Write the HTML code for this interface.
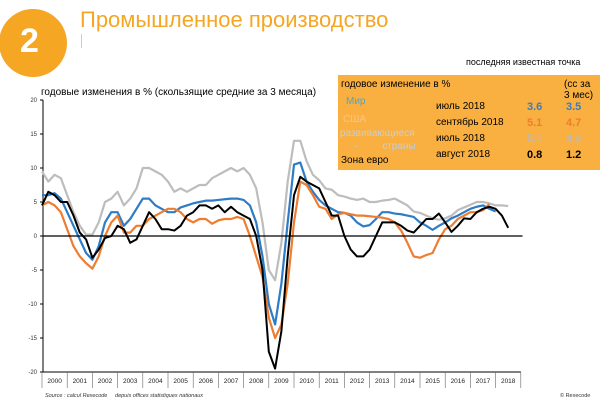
<!DOCTYPE html>
<html><head><meta charset="utf-8"><style>
body{margin:0;width:611px;height:406px;background:#fff;overflow:hidden;font-family:"Liberation Sans","DejaVu Sans",sans-serif;position:relative}
.a{position:absolute;white-space:nowrap}
</style></head><body>
<div class="a" style="left:-1px;top:9px;width:68px;height:68px;border-radius:50%;background:#f5a623"></div>
<div class="a" style="left:20px;top:22px;color:#fff;font-size:34px;font-weight:bold">2</div>
<div class="a" style="left:80px;top:7px;color:#f5a623;font-size:22px">Промышленное производство</div>
<div class="a" style="left:81px;top:34px;width:1px;height:14px;background:#f5c77a"></div>
<div class="a" style="left:466px;top:57px;font-size:9px">последняя известная точка</div>
<div class="a" style="left:41px;top:87px;font-size:10px">годовые изменения в % (скользящие средние за 3 месяца)</div>
<svg id="ch" class="a" style="left:0;top:0" width="611" height="406"></svg>
<div class="a" style="left:338px;top:75px;width:262px;height:95px;background:#f9b041;font-size:10px">
<div class="a" style="left:3px;top:4px">годовое изменение в %</div>
<div class="a" style="left:226px;top:4px;line-height:11px">(сс за<br>3 мес)</div>
<div class="a" style="left:8px;top:21px;color:#4ba6cf">Мир</div>
<div class="a" style="left:5px;top:39px;color:#f7c48a">США</div>
<div class="a" style="left:2px;top:52px;color:#ccc;line-height:13px">развивающиеся<br>&nbsp;&nbsp;&nbsp;&nbsp;&nbsp;-&nbsp;&nbsp;&nbsp;&nbsp;&nbsp;&nbsp;&nbsp;&nbsp;&nbsp;страны</div>
<div class="a" style="left:3px;top:80px">Зона евро</div>
<div class="a" style="left:98px;top:26px">июль 2018</div>
<div class="a" style="left:98px;top:42px">сентябрь 2018</div>
<div class="a" style="left:98px;top:58px">июль 2018</div>
<div class="a" style="left:98px;top:74px">август 2018</div>
<div class="a" style="left:189px;top:26px;color:#3a7cc0;font-weight:bold;font-size:11px">3.6</div>
<div class="a" style="left:228px;top:26px;color:#3a7cc0;font-weight:bold;font-size:11px">3.5</div>
<div class="a" style="left:189px;top:42px;color:#ef7d2e;font-weight:bold;font-size:11px">5.1</div>
<div class="a" style="left:228px;top:42px;color:#ef7d2e;font-weight:bold;font-size:11px">4.7</div>
<div class="a" style="left:189px;top:58px;color:#bbb;font-weight:bold;font-size:11px">5.1</div>
<div class="a" style="left:228px;top:58px;color:#bbb;font-weight:bold;font-size:11px">4.4</div>
<div class="a" style="left:189px;top:74px;font-weight:bold;font-size:11px">0.8</div>
<div class="a" style="left:228px;top:74px;font-weight:bold;font-size:11px">1.2</div>
</div>
<div class="a" style="left:45px;top:393px;font-size:5.5px;font-style:italic;color:#333">Source : calcul Rexecode &nbsp;&nbsp;&nbsp; depuis offices statistiques nationaux</div>
<div class="a" style="left:560px;top:393px;font-size:5.5px;color:#333">© Rexecode</div>
<script>
const years=["2000","2001","2002","2003","2004","2005","2006","2007","2008","2009","2010","2011","2012","2013","2014","2015","2016","2017","2018"];
const yTicks=[20,15,10,5,0,-5,-10,-15,-20];
const startYear=2000, step=0.25;
const emerging=[9.5,8,9,8.5,6,3.5,1.5,0.2,0.2,2,5,5.5,6.5,4.5,5.5,7,10,10,9.5,9,8,6.5,7,6.5,7,7.5,7.5,8.5,9,9.5,10,9.5,10,9,7,2,-5,-6.5,-1,8,14,14,11,9,8.2,7,6.8,6,5.8,5.5,5.3,5.5,5,5,5.2,5.3,5.5,5,4.5,3.6,3.4,3,2.6,2.4,2.6,3,3.8,4.2,4.6,5,5,4.8,4.5,4.5,4.4];
const world=[6,6,6.3,5.5,3.5,1.5,-0.5,-2.5,-3.5,-1.5,2,3.5,3.5,1.5,2.5,4,5.5,5.5,4.5,4,3.5,3.5,4.2,4.5,4.8,5,5.2,5.2,5.3,5.4,5.5,5.5,5.3,4.5,2,-3,-10,-13,-7,2,10.5,10.8,8,6.5,5.3,4.5,4,3.5,3.4,3,2,1.4,1.6,2.5,3.5,3.5,3.3,3.2,3,2.8,2,1.5,0.9,1.5,2,2.6,3,3.5,4,4.3,4.5,4,3.6];
const usa=[4.5,5,4.5,3.5,1,-1.5,-3,-4,-4.8,-3,0,2,3,0.5,0.5,1.5,1.5,2.5,3,3.5,4,4,3.5,2.5,2,2.5,2.5,1.8,2.3,2.5,2.5,2.8,2.5,0,-3,-6,-12,-15,-13,-7,2,8,7.5,6,4.3,4,2.5,3.2,3.4,3.2,3,3,2.9,2.8,2.7,2.5,2,0.8,-1,-3,-3.2,-2.8,-2.5,-0.5,1,1.5,2.5,3,3.5,3.5,3.8,4.7];
const euro=[4.5,6.5,6,5,5,3,0.5,-0.5,-3.2,-2,-0.3,0,1.5,1,-1,-0.5,1.5,3.5,2.5,1,1,0.8,1.5,3,3.5,4.5,4.5,4,4.5,3.5,4.3,3.5,3,2.5,0,-5,-17,-19.5,-14,-3,6,8.7,8,7.5,7,5,3,3,0,-2,-3,-3,-2,0,2,2,2,1.5,0.8,0.5,1.5,2.5,2.5,3.3,2,0.6,1.5,2.6,2.5,3.5,4,4.3,4,3,1.2];
const X0=42,YW=25.2,Y0=236,PU=6.8;
const xs=t=>X0+(t-startYear)*YW;
const ys=v=>Y0-v*PU;
const svg=document.getElementById('ch');const NS="http://www.w3.org/2000/svg";
function mk(tag,attrs,name){const e=document.createElementNS(NS,tag);for(const k in attrs)e.setAttribute(k,attrs[k]);


svg.appendChild(e);return e;}
mk('line',{x1:43,y1:ys(20),x2:43,y2:ys(-20),stroke:'#000','stroke-width':1},'y-axis');
yTicks.forEach(v=>{mk('line',{x1:40,x2:43,y1:ys(v),y2:ys(v),stroke:'#000'},'y-tick');
const t=mk('text',{x:37,y:ys(v)+2,'font-size':6,'text-anchor':'end',fill:'#333','font-family':'Liberation Sans'},'y-tick-label');t.textContent=v;});
mk('line',{x1:43,y1:ys(-20),x2:X0+19*YW,y2:ys(-20),stroke:'#000','stroke-width':1},'x-axis');
for(let i=0;i<=years.length;i++){mk('line',{x1:xs(startYear+i),x2:xs(startYear+i),y1:ys(-20),y2:ys(-20)+16,stroke:'#666','stroke-width':0.6},'x-tick');}
years.forEach((y,i)=>{const t=mk('text',{x:xs(startYear+i+0.5),y:ys(-20)+11,'font-size':6.5,'text-anchor':'middle',fill:'#222','font-family':'Liberation Sans'},'x-tick-label');t.textContent=y;});
function line(d,c,w,n){mk('polyline',{points:d.map((v,i)=>xs(startYear+i*step)+','+ys(v)).join(' '),fill:'none',stroke:c,'stroke-width':w,'stroke-linejoin':'round'},n);}
line(emerging,'#bdbdbd',2.2,'series-emerging');
line(world,'#2e7cc6',2.2,'series-world');
line(usa,'#ee7d31',2.2,'series-usa');
line(euro,'#000',2,'series-euro');
mk('line',{x1:43,x2:xs(2018.75)+8,y1:ys(0),y2:ys(0),stroke:'#000','stroke-width':1.2},'zero-line');
</script>
</body></html>
